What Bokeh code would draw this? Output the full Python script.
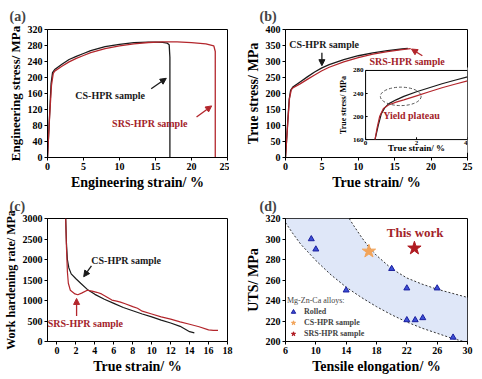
import math
from bokeh.plotting import figure
from bokeh.layouts import gridplot
from bokeh.models import Range1d, Title, Arrow, NormalHead, Legend, LegendItem, FixedTicker
from bokeh.core.properties import value
from bokeh.embed import file_html
from bokeh.resources import INLINE

SERIF = "Liberation Serif"
BLACK = "#1a1a1a"
RED = "#b3262c"
TXTRED = "#a3232a"

# ---------------- panel (a) data ----------------
a_cs_strain = [0, 0.3, 0.5, 0.7, 1, 2, 3, 4, 5, 6, 8, 10, 12, 14, 15, 16, 16.6, 16.9, 17.0, 17.0]
a_cs_stress = [0, 110, 185, 212, 220, 233, 245, 253, 260, 267, 277, 283, 287, 288.5, 288.5, 288, 286, 282, 250, 0]
a_srs_strain = [0, 0.3, 0.55, 0.8, 1, 2, 3, 4, 5, 6, 8, 10, 12, 14, 16, 18, 20, 22, 23.1, 23.3, 23.3]
a_srs_stress = [0, 105, 180, 210, 216, 228, 239, 248, 255, 262, 272, 279, 284, 287.5, 289, 289, 287, 284, 279, 265, 0]
a_arrow_cs = [14.4, 172, 16.5, 198]
a_arrow_srs = [20.7, 101, 22.8, 129]
a_text_cs = [8.7, 155, "CS-HPR sample"]
a_text_srs = [14.2, 84, "SRS-HPR sample"]

# ---------------- panel (b) data ----------------
b_cs_strain = [0, 0.3, 0.5, 0.7, 1, 2, 3, 4, 5, 6, 8, 10, 12, 14, 16, 16.8]
b_cs_stress = [0, 110, 180, 210, 220, 236, 252, 267, 280, 290, 306, 318, 327, 334, 339, 341]
b_srs_strain = [0, 0.3, 0.55, 0.8, 1, 2, 3, 4, 5, 6, 8, 10, 12, 14, 16, 17.2]
b_srs_stress = [0, 105, 185, 212, 217, 230, 244, 258, 271, 282, 299, 312, 323, 331, 337, 340]
b_arrow_cs = [5.0, 327, 5.0, 287]
b_arrow_srs = [18.8, 318, 17.3, 339]
b_text_cs = [5.3, 352, "CS-HPR sample"]
b_text_srs = [16.7, 301, "SRS-HPR sample"]
# inset
i_cs_strain = [0.37, 0.5, 0.62, 0.75, 0.9, 1.2, 1.5, 2.0, 2.5, 3.0, 3.5, 4.0]
i_cs_stress = [160, 185, 205, 215, 222, 229, 235, 243, 250, 257, 263, 269]
i_srs_strain = [0.37, 0.45, 0.55, 0.7, 0.9, 1.2, 1.5, 2.0, 2.5, 3.0, 3.5, 4.0]
i_srs_stress = [160, 180, 200, 214, 220, 225, 229, 236, 243, 250, 256, 262]
i_xticks = [0, 2, 4]
i_yticks = [160, 200, 240, 280]
i_ellipse = [1.38, 235, 1.6, 32]
i_text = [1.8, 201, "Yield plateau"]

# ---------------- panel (c) data ----------------
c_cs_strain = [0.92, 1.0, 1.1, 1.25, 1.5, 2.0, 2.5, 3.2, 4.0, 5.0, 6.0, 7.0, 8.0, 9.0, 10.0, 11.0, 12.0, 13.0, 14.0, 14.5]
c_cs_rate = [3000, 2400, 2000, 1800, 1650, 1530, 1420, 1270, 1150, 1030, 930, 830, 750, 670, 600, 520, 450, 370, 240, 210]
c_srs_strain = [0.92, 1.0, 1.1, 1.2, 1.41, 1.9, 2.2, 2.6, 3.2, 3.7, 4.2, 4.7, 5.3, 5.8, 6.3, 6.7, 7.2, 8.0, 8.5, 9.0,
                10.0, 11.0, 12.0, 13.0, 14.0, 15.0, 16.0, 16.5, 17.0]
c_srs_rate = [3000, 2300, 1700, 1420, 1250, 1160, 1140, 1180, 1250, 1230, 1200, 1160, 1080, 1010, 985, 960, 920, 850,
              810, 740, 670, 600, 545, 480, 420, 360, 285, 270, 270]
c_arrow_cs = [3.64, 1844, 2.82, 1580]
c_arrow_srs = [2.07, 620, 2.07, 1050]
c_text_cs = [7.3, 1980, "CS-HPR sample"]
c_text_srs = [3.0, 430, "SRS-HPR sample"]

# ---------------- panel (d) data ----------------
rolled_elong = [9.4, 10.0, 14.0, 20.0, 22.0, 22.0, 23.1, 24.1, 26.0, 28.1]
rolled_uts = [300, 290, 250, 271, 252, 221, 221, 223, 252, 204]
cs_elong, cs_uts = [17.0], [288]
srs_elong, srs_uts = [23.0], [291]
band_x = [6, 7, 8, 9, 10, 12, 14, 14.4, 15, 16, 17, 18, 20, 22, 24, 26, 28, 29.5, 30]
band_low = [316, 305, 295, 287, 279, 265, 253, 251, 248, 243, 238, 234, 226, 219, 213, 208, 203, 200, 200]
band_high = [320, 320, 320, 320, 320, 320, 320, 320, 313, 302, 292, 284, 271, 262, 256, 251, 247, 244, 243]
low_x = [6, 7, 8, 9, 10, 12, 14, 16, 18, 20, 22, 24, 26, 28, 29.5]
low_y = [316, 305, 295, 287, 279, 265, 253, 243, 234, 226, 219, 213, 208, 203, 200]
high_x = [14.4, 15, 16, 17, 18, 20, 22, 24, 26, 28, 30]
high_y = [320, 313, 302, 292, 284, 271, 262, 256, 251, 247, 243]
d_text = [23.1, 306, "This work"]


def make_fig(label, xr, yr, xticks, yticks, xlabel, ylabel, fw, fh, left, offset, standoff, ysize):
    p = figure(frame_width=fw, frame_height=fh, x_range=Range1d(*xr), y_range=Range1d(*yr),
               output_backend="svg", toolbar_location=None, min_border_right=6,
               min_border_bottom=2, min_border_left=left, min_border_top=2)
    p.grid.visible = False
    p.outline_line_color = "black"
    p.outline_line_width = 1
    p.xaxis.ticker = FixedTicker(ticks=xticks)
    p.yaxis.ticker = FixedTicker(ticks=yticks)
    p.xaxis.axis_label = xlabel
    p.yaxis.axis_label = ylabel
    for ax in p.xaxis + p.yaxis:
        ax.axis_label_text_font = SERIF
        ax.axis_label_text_font_style = "bold"
        ax.axis_label_text_font_size = "14px"
        ax.axis_label_text_color = "black"
        ax.major_label_text_font = SERIF
        ax.major_label_text_font_style = "bold"
        ax.major_label_text_font_size = "10px"
        ax.major_label_text_color = "black"
        ax.axis_label_standoff = 2
        ax.major_label_standoff = 2
        ax.major_tick_out = 3
        ax.major_tick_in = 0
        ax.minor_tick_out = 0
        ax.minor_tick_in = 0
        ax.axis_line_color = "black"
        ax.major_tick_line_color = "black"
    p.yaxis.axis_label_text_font_size = ysize
    t = Title(text=label, text_font=SERIF, text_font_style="bold", text_font_size="14px",
              align="left", offset=offset, standoff=standoff)
    p.add_layout(t, "above")
    return p


def arrow(p, a, color):
    p.add_layout(Arrow(end=NormalHead(size=6, fill_color=color, line_color=color),
                       x_start=a[0], y_start=a[1], x_end=a[2], y_end=a[3],
                       line_color=color, line_width=1.3))


def label(p, t, color, size="10px"):
    p.text(x=[t[0]], y=[t[1]], text=[t[2]], text_font=value(SERIF), text_font_style="bold",
           text_font_size=size, text_color=color, text_align="center", text_baseline="middle")


FW_L, FW_R = 180, 182
LEFT_L, LEFT_R = 40, 52
FH_TOP, FH_BOT = 128, 123

# (a)
pa = make_fig("(a)", (0, 25), (0, 320), [0, 5, 10, 15, 20, 25], list(range(0, 321, 40)),
              "Engineering strain/ %", "Engineering stress/ MPa", FW_L, FH_TOP, LEFT_L, -38, 12, "13px")
pa.line(a_cs_strain, a_cs_stress, line_color=BLACK, line_width=1.3)
pa.line(a_srs_strain, a_srs_stress, line_color=RED, line_width=1.3)
arrow(pa, a_arrow_cs, BLACK)
arrow(pa, a_arrow_srs, RED)
label(pa, a_text_cs, BLACK)
label(pa, a_text_srs, TXTRED)

# (b)
pb = make_fig("(b)", (0, 25), (0, 400), [0, 5, 10, 15, 20, 25], list(range(0, 401, 50)),
              "True strain/ %", "True stress/ MPa", FW_R, FH_TOP, LEFT_R, -26, 12, "14px")
pb.line(b_cs_strain, b_cs_stress, line_color=BLACK, line_width=1.3)
pb.line(b_srs_strain, b_srs_stress, line_color=RED, line_width=1.3)
arrow(pb, b_arrow_cs, BLACK)
arrow(pb, b_arrow_srs, RED)
label(pb, b_text_cs, BLACK)
label(pb, b_text_srs, TXTRED)

ins = pb.subplot(x_source=Range1d(0, 4), y_source=Range1d(160, 280),
                 x_target=Range1d(11, 25), y_target=Range1d(56, 272))
ins.quad(left=[-1.3], right=[4.1], bottom=[137], top=[285], fill_color="white", line_color=None)
ins.quad(left=[0], right=[4], bottom=[160], top=[280], fill_color="white", line_color="black", line_width=1)
ins.line(i_cs_strain, i_cs_stress, line_color=BLACK, line_width=1.2)
ins.line(i_srs_strain, i_srs_stress, line_color=RED, line_width=1.2)
ins.ellipse(x=[i_ellipse[0]], y=[i_ellipse[1]], width=i_ellipse[2], height=i_ellipse[3],
            fill_color=None, line_color="#555555", line_dash="3 2", line_width=1)
ins.text(x=[i_text[0]], y=[i_text[1]], text=[i_text[2]], text_font=value(SERIF), text_font_style="bold",
         text_font_size="10px", text_color=TXTRED, text_align="center", text_baseline="middle")
ins.segment(x0=i_xticks, y0=[160] * 3, x1=i_xticks, y1=[164] * 3, line_color="black")
ins.segment(x0=[0] * 4, y0=i_yticks, x1=[0.08] * 4, y1=i_yticks, line_color="black")
ins.text(x=i_xticks[:-1], y=[157] * 2, text=[str(v) for v in i_xticks[:-1]], text_font=value(SERIF),
         text_font_style="bold", text_font_size="7px", text_align="center", text_baseline="top")
ins.text(x=[i_xticks[-1]], y=[157], text=[str(i_xticks[-1])], text_font=value(SERIF),
         text_font_style="bold", text_font_size="7px", text_align="right", text_baseline="top")
ins.text(x=[-0.08] * 4, y=i_yticks, text=[str(v) for v in i_yticks], text_font=value(SERIF),
         text_font_style="bold", text_font_size="7px", text_align="right", text_baseline="middle")
ins.text(x=[2], y=[145], text=["True strain/ %"], text_font=value(SERIF), text_font_style="bold",
         text_font_size="9px", text_align="center", text_baseline="middle")
ins.text(x=[-0.85], y=[220], text=["True stress/ MPa"], text_font=value(SERIF), text_font_style="bold",
         text_font_size="8px", text_align="center", text_baseline="middle", angle=math.pi / 2)

# (c)
pc = make_fig("(c)", (-1, 18), (0, 3000), list(range(0, 19, 2)), list(range(0, 3001, 500)),
              "True strain/ %", "Work hardening rate/ MPa", FW_L, FH_BOT, LEFT_L, -38, 9, "12px")
pc.line(c_cs_strain, c_cs_rate, line_color=BLACK, line_width=1.2)
pc.line(c_srs_strain, c_srs_rate, line_color=RED, line_width=1.2)
arrow(pc, c_arrow_cs, BLACK)
arrow(pc, c_arrow_srs, RED)
label(pc, c_text_cs, BLACK)
label(pc, c_text_srs, TXTRED)

# (d)
pd = make_fig("(d)", (6, 30), (200, 320), [6, 10, 14, 18, 22, 26, 30], list(range(200, 321, 20)),
              "Tensile elongation/ %", "UTS/ MPa", FW_R, FH_BOT, LEFT_R, -26, 9, "14px")
pd.varea(x=band_x, y1=band_low, y2=band_high, fill_color="#dfe7f8")
pd.line(low_x, low_y, line_color="#333333", line_dash="2 2", line_width=1)
pd.line(high_x, high_y, line_color="#333333", line_dash="2 2", line_width=1)
r1 = pd.scatter(rolled_elong, rolled_uts, marker="triangle", size=6, fill_color="#3b4fd6", line_color="#1b1f9e")
r2 = pd.scatter(cs_elong, cs_uts, marker="star", size=14, fill_color="#f2a45a", line_color="#f2a45a")
r3 = pd.scatter(srs_elong, srs_uts, marker="star", size=14, fill_color="#b01c22", line_color="#b01c22")
label(pd, d_text, TXTRED, size="13px")
leg = Legend(items=[LegendItem(label="Rolled", renderers=[r1]),
                    LegendItem(label="CS-HPR sample", renderers=[r2]),
                    LegendItem(label="SRS-HPR sample", renderers=[r3])],
             location="bottom_left", title="Mg-Zn-Ca alloys:",
             title_text_font=SERIF, title_text_font_size="8px", title_text_font_style="normal",
             label_text_font=SERIF, label_text_font_size="8px", label_text_font_style="bold",
             glyph_height=11, glyph_width=12, label_height=11, spacing=0, padding=2, margin=2,
             border_line_color=None, background_fill_alpha=0, title_standoff=1)
pd.add_layout(leg)

grid = gridplot([[pa, pb], [pc, pd]], toolbar_location=None)
open("out.html", "w").write(file_html(grid, INLINE))
